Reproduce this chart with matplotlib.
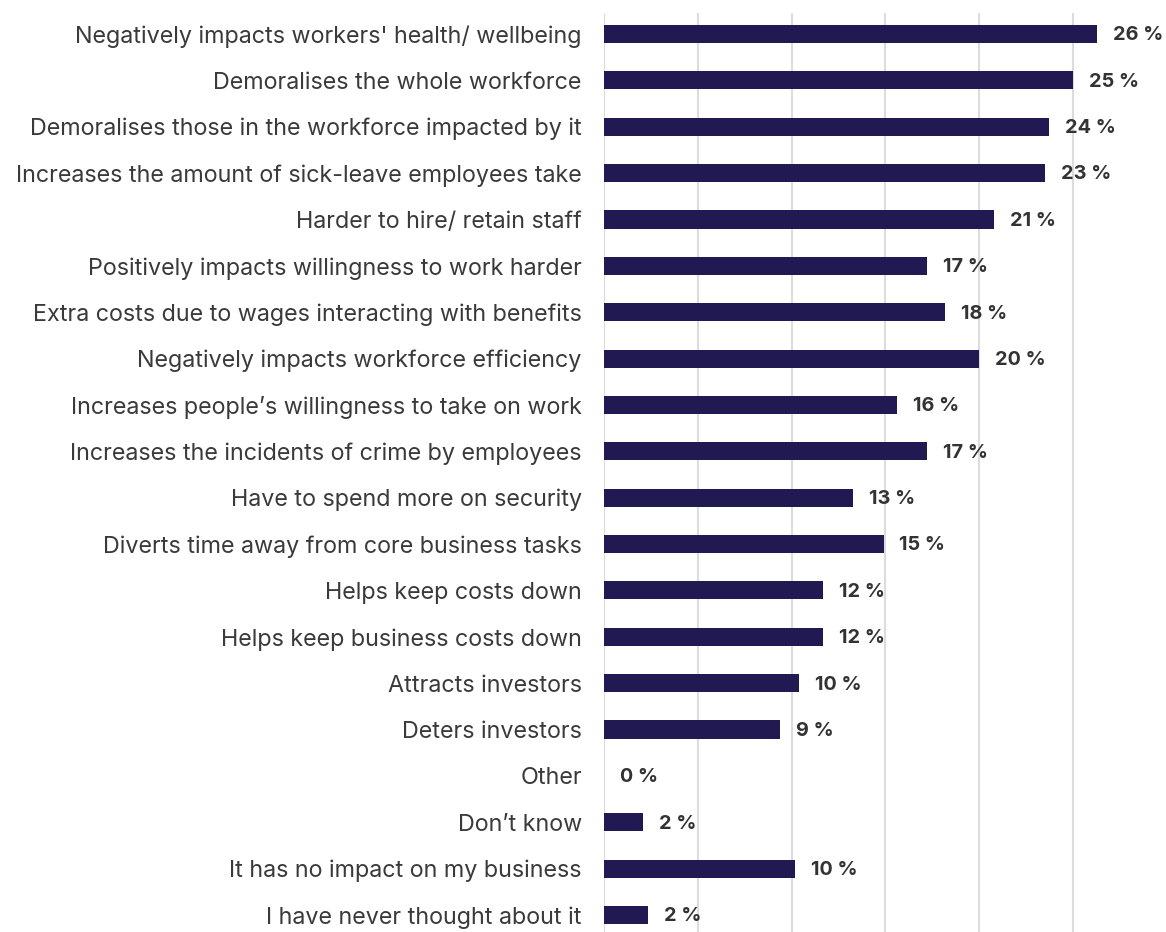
import matplotlib
matplotlib.use("Agg")
from matplotlib import pyplot as plt

# answers, top to bottom
categories = [
	"Negatively impacts workers' health/ wellbeing",
	"Demoralises the whole workforce",
	"Demoralises those in the workforce impacted by it",
	"Increases the amount of sick-leave employees take",
	"Harder to hire/ retain staff",
	"Positively impacts willingness to work harder",
	"Extra costs due to wages interacting with benefits",
	"Negatively impacts workforce efficiency",
	"Increases people\u2019s willingness to take on work",
	"Increases the incidents of crime by employees",
	"Have to spend more on security",
	"Diverts time away from core business tasks",
	"Helps keep costs down",
	"Helps keep business costs down",
	"Attracts investors",
	"Deters investors",
	"Other",
	"Don\u2019t know",
	"It has no impact on my business",
	"I have never thought about it",
]
values = [26.3, 25.0, 23.7, 23.5, 20.8, 17.2, 18.2, 20.0, 15.6, 17.2,
		  13.3, 14.9, 11.7, 11.7, 10.4, 9.4, 0.0, 2.1, 10.2, 2.35]
labels = ["26 %", "25 %", "24 %", "23 %", "21 %", "17 %", "18 %", "20 %", "16 %", "17 %",
		  "13 %", "15 %", "12 %", "12 %", "10 %", "9 %", "0 %", "2 %", "10 %", "2 %"]
grid_ticks = [0, 5, 10, 15, 20, 25]

plt.rcParams['font.family'] = ['Inter', 'DejaVu Sans']

W, H = 1166, 932
fig = plt.figure(figsize=(W/100, H/100), dpi=100)
ax = fig.add_axes([604/W, 0, (1148-604)/W, (932-13)/H])

ypos = list(range(len(categories)))
ax.barh(ypos, values, height=0.39, color="#211951", linewidth=0, zorder=3)
for y, v, t in zip(ypos, values, labels):
	ax.text(v + 0.85, y + 0.03, t, va="center", ha="left", fontsize=14.3, fontweight="bold", color="#333333")

ax.set_xlim(0, 29)
ax.set_ylim(19.367, -0.453)
ax.set_xticks(grid_ticks)
ax.set_xticklabels([])
ax.tick_params(axis="x", length=0)
ax.grid(axis="x", color="#dcdcdc", linewidth=1.5, zorder=0)
ax.set_yticks(ypos)
ax.set_yticklabels(categories, fontsize=16.8, color="#3a3a3a")
ax.tick_params(axis="y", length=0, pad=16)
for s in ax.spines.values():
	s.set_visible(False)

plt.savefig("out.png", dpi=100)
